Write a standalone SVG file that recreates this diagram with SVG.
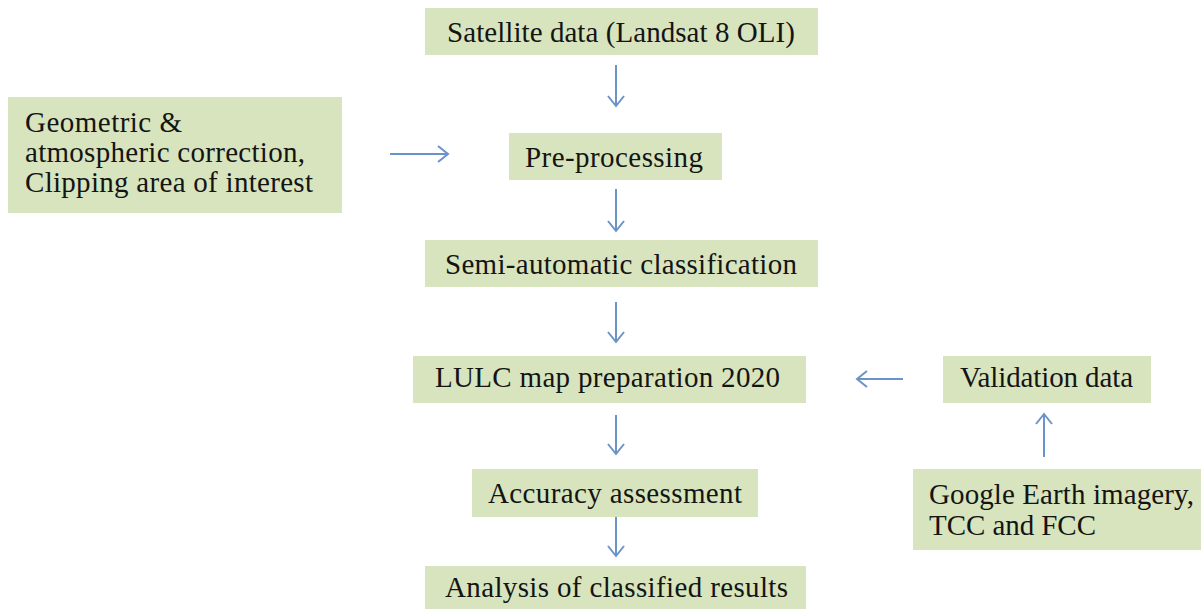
<svg xmlns="http://www.w3.org/2000/svg" width="1201" height="609" viewBox="0 0 1201 609">
<style>
.box{fill:#d7e4bd;}
.t{font-family:'Liberation Serif',serif;font-size:29px;fill:#141414;}
.c{stroke:#6a93c8;stroke-width:2;fill:none;}
</style>
<defs>
<marker id="ah" viewBox="-12 -9 14 18" markerWidth="14" markerHeight="18" refX="0" refY="0" orient="auto" markerUnits="userSpaceOnUse">
<polyline points="-10,-8 0,0 -10,8" fill="none" stroke="#6a93c8" stroke-width="2"/>
</marker>
</defs>
<rect width="1201" height="609" fill="#ffffff"/>
<g id="connectors">
<line class="c" x1="616" y1="65" x2="616" y2="106" marker-end="url(#ah)"/>
<line class="c" x1="390" y1="154" x2="448" y2="154" marker-end="url(#ah)"/>
<line class="c" x1="616" y1="189" x2="616" y2="231" marker-end="url(#ah)"/>
<line class="c" x1="616" y1="302" x2="616" y2="342" marker-end="url(#ah)"/>
<line class="c" x1="903" y1="379" x2="857" y2="379" marker-end="url(#ah)"/>
<line class="c" x1="1044" y1="457" x2="1044" y2="414" marker-end="url(#ah)"/>
<line class="c" x1="616" y1="415" x2="616" y2="454" marker-end="url(#ah)"/>
<line class="c" x1="616" y1="515" x2="616" y2="556" marker-end="url(#ah)"/>
</g>
<g id="satellite">
<rect class="box" x="425" y="8" width="393" height="47"/>
<text class="t" x="447" y="42" textLength="348" lengthAdjust="spacing">Satellite data (Landsat 8 OLI)</text>
</g>
<g id="geometric">
<rect class="box" x="8" y="97" width="334" height="116"/>
<text class="t" x="25" y="132" textLength="157" lengthAdjust="spacing">Geometric &amp;</text>
<text class="t" x="25" y="162" textLength="280" lengthAdjust="spacing">atmospheric correction,</text>
<text class="t" x="25" y="192" textLength="288" lengthAdjust="spacing">Clipping area of interest</text>
</g>
<g id="preprocessing">
<rect class="box" x="509" y="133" width="213" height="47"/>
<text class="t" x="525" y="167" textLength="178" lengthAdjust="spacing">Pre-processing</text>
</g>
<g id="semi">
<rect class="box" x="425" y="240" width="393" height="47"/>
<text class="t" x="445" y="274" textLength="352" lengthAdjust="spacing">Semi-automatic classification</text>
</g>
<g id="lulc">
<rect class="box" x="413" y="356" width="393" height="47"/>
<text class="t" x="435" y="387" textLength="345" lengthAdjust="spacing">LULC map preparation 2020</text>
</g>
<g id="validation">
<rect class="box" x="943" y="356" width="208" height="47"/>
<text class="t" x="960" y="387" textLength="173" lengthAdjust="spacing">Validation data</text>
</g>
<g id="google">
<rect class="box" x="913" y="469" width="292" height="81"/>
<text class="t" x="929" y="504" textLength="265" lengthAdjust="spacing">Google Earth imagery,</text>
<text class="t" x="929" y="535" textLength="167" lengthAdjust="spacing">TCC and FCC</text>
</g>
<g id="accuracy">
<rect class="box" x="472" y="469" width="286" height="48"/>
<text class="t" x="488" y="503" textLength="254" lengthAdjust="spacing">Accuracy assessment</text>
</g>
<g id="analysis">
<rect class="box" x="425" y="566" width="381" height="47"/>
<text class="t" x="445" y="597" textLength="343" lengthAdjust="spacing">Analysis of classified results</text>
</g>
</svg>
